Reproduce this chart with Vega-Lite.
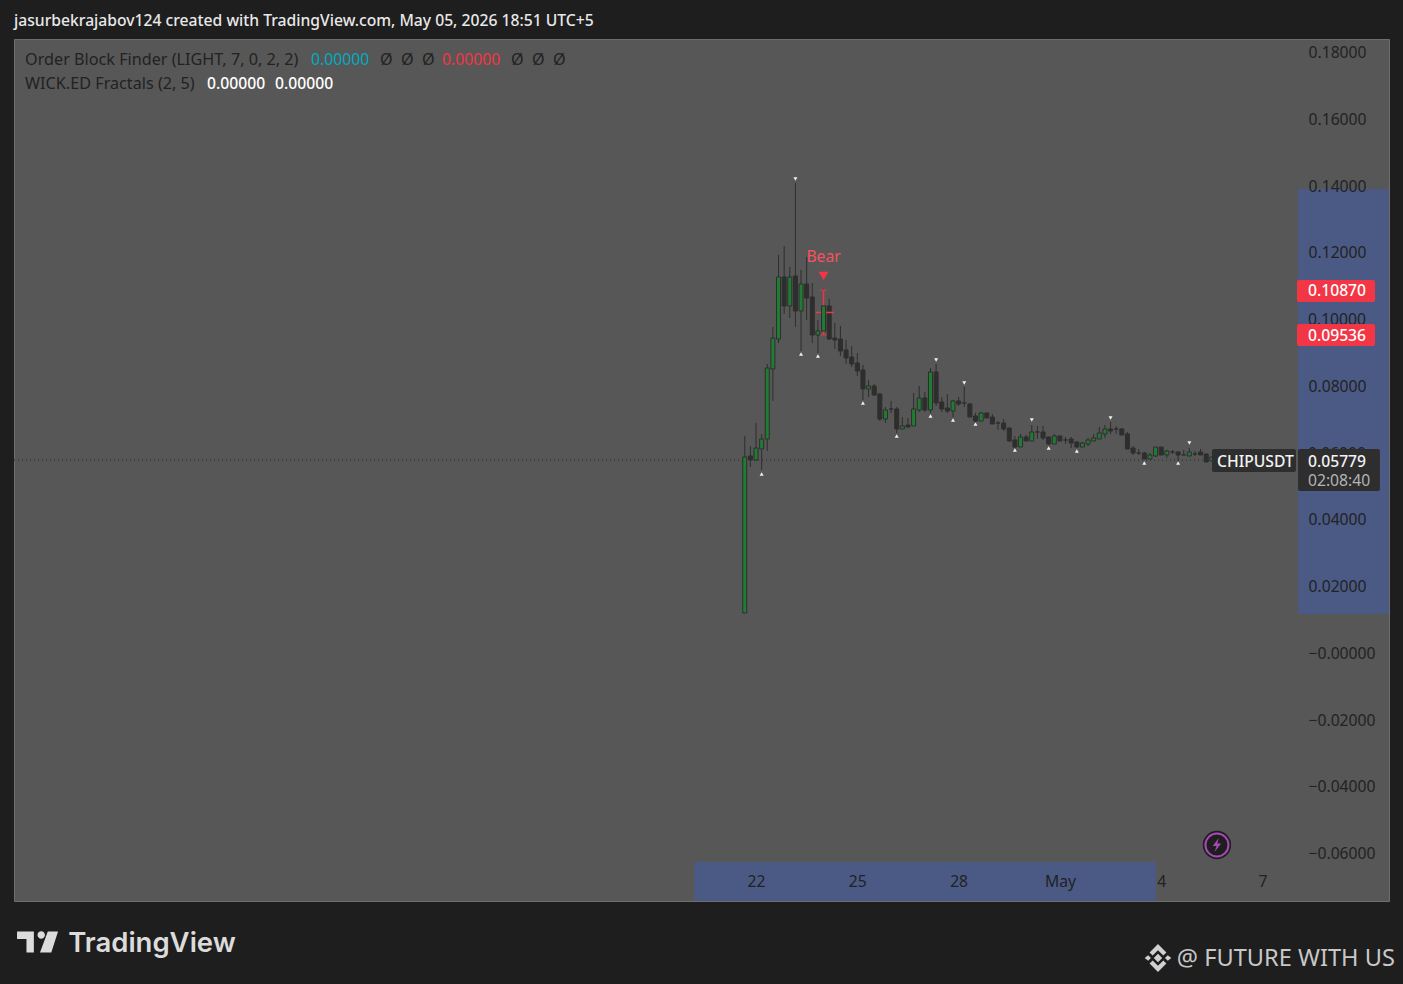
{
"$schema":"https://vega.github.io/schema/vega-lite/v6.json",
"width":1375,"height":862,"autosize":{"type":"none"},
"padding":{"left":14,"top":39,"right":14,"bottom":83},
"background":"#1e1e1e",
"view":{"fill":"#575757","stroke":"#6e6e6e"},
"title":{"text":"jasurbekrajabov124 created with TradingView.com, May 05, 2026 18:51 UTC+5","anchor":"start","frame":"group","offset":9,"fontSize":15.7,"color":"#e8e8e8","font":"Noto Sans","fontWeight":500},
"config":{"text":{"font":"Noto Sans","fontSize":15.7,"baseline":"middle","align":"left","dy":1}},
"datasets":{"candles":[
{"t":"2026-04-21T16:00:00Z","o":0.01199,"h":0.06502,"l":0.01199,"c":0.05873},
{"t":"2026-04-21T20:00:00Z","o":0.05903,"h":0.06202,"l":0.05573,"c":0.05783},
{"t":"2026-04-22T00:00:00Z","o":0.05783,"h":0.06891,"l":0.05753,"c":0.06142},
{"t":"2026-04-22T04:00:00Z","o":0.06112,"h":0.06562,"l":0.05483,"c":0.06412},
{"t":"2026-04-22T08:00:00Z","o":0.06412,"h":0.08659,"l":0.06053,"c":0.08539},
{"t":"2026-04-22T12:00:00Z","o":0.08509,"h":0.09768,"l":0.07551,"c":0.09438},
{"t":"2026-04-22T16:00:00Z","o":0.09408,"h":0.11925,"l":0.09289,"c":0.11266},
{"t":"2026-04-22T20:00:00Z","o":0.11266,"h":0.12195,"l":0.10157,"c":0.10397},
{"t":"2026-04-23T00:00:00Z","o":0.10397,"h":0.11566,"l":0.10038,"c":0.11266},
{"t":"2026-04-23T04:00:00Z","o":0.11296,"h":0.14083,"l":0.09768,"c":0.10247},
{"t":"2026-04-23T08:00:00Z","o":0.10247,"h":0.11476,"l":0.09049,"c":0.11056},
{"t":"2026-04-23T12:00:00Z","o":0.11056,"h":0.11865,"l":0.09978,"c":0.10637},
{"t":"2026-04-23T16:00:00Z","o":0.10667,"h":0.11086,"l":0.09289,"c":0.09528},
{"t":"2026-04-23T20:00:00Z","o":0.09528,"h":0.09978,"l":0.08989,"c":0.09648},
{"t":"2026-04-24T00:00:00Z","o":0.09648,"h":0.10907,"l":0.09528,"c":0.10397},
{"t":"2026-04-24T04:00:00Z","o":0.10397,"h":0.10607,"l":0.09378,"c":0.09408},
{"t":"2026-04-24T08:00:00Z","o":0.09438,"h":0.09888,"l":0.09109,"c":0.09378},
{"t":"2026-04-24T12:00:00Z","o":0.09408,"h":0.09798,"l":0.08899,"c":0.09049},
{"t":"2026-04-24T16:00:00Z","o":0.09079,"h":0.09378,"l":0.08659,"c":0.08839},
{"t":"2026-04-24T20:00:00Z","o":0.08869,"h":0.09199,"l":0.08569,"c":0.08659},
{"t":"2026-04-25T00:00:00Z","o":0.08689,"h":0.08989,"l":0.083,"c":0.0845},
{"t":"2026-04-25T04:00:00Z","o":0.0848,"h":0.08629,"l":0.07581,"c":0.0791},
{"t":"2026-04-25T08:00:00Z","o":0.0791,"h":0.0818,"l":0.07671,"c":0.08},
{"t":"2026-04-25T12:00:00Z","o":0.08,"h":0.0806,"l":0.077,"c":0.0773},
{"t":"2026-04-25T16:00:00Z","o":0.0776,"h":0.0779,"l":0.06951,"c":0.07011},
{"t":"2026-04-25T20:00:00Z","o":0.07011,"h":0.07371,"l":0.06891,"c":0.07281},
{"t":"2026-04-26T00:00:00Z","o":0.07311,"h":0.07551,"l":0.07191,"c":0.07311},
{"t":"2026-04-26T04:00:00Z","o":0.07311,"h":0.07371,"l":0.06592,"c":0.06712},
{"t":"2026-04-26T08:00:00Z","o":0.06712,"h":0.07071,"l":0.06712,"c":0.06802},
{"t":"2026-04-26T12:00:00Z","o":0.06832,"h":0.07041,"l":0.06742,"c":0.06772},
{"t":"2026-04-26T16:00:00Z","o":0.06802,"h":0.0779,"l":0.06802,"c":0.07311},
{"t":"2026-04-26T20:00:00Z","o":0.07281,"h":0.08,"l":0.07221,"c":0.07641},
{"t":"2026-04-27T00:00:00Z","o":0.07641,"h":0.0782,"l":0.07221,"c":0.07281},
{"t":"2026-04-27T04:00:00Z","o":0.07281,"h":0.08539,"l":0.07191,"c":0.0842},
{"t":"2026-04-27T08:00:00Z","o":0.0842,"h":0.08659,"l":0.07401,"c":0.07491},
{"t":"2026-04-27T12:00:00Z","o":0.07521,"h":0.07671,"l":0.07221,"c":0.07311},
{"t":"2026-04-27T16:00:00Z","o":0.07341,"h":0.0776,"l":0.07191,"c":0.07251},
{"t":"2026-04-27T20:00:00Z","o":0.07251,"h":0.07581,"l":0.07071,"c":0.07551},
{"t":"2026-04-28T00:00:00Z","o":0.07551,"h":0.07671,"l":0.07401,"c":0.07461},
{"t":"2026-04-28T04:00:00Z","o":0.07491,"h":0.0797,"l":0.07371,"c":0.07491},
{"t":"2026-04-28T08:00:00Z","o":0.07461,"h":0.07491,"l":0.07071,"c":0.07071},
{"t":"2026-04-28T12:00:00Z","o":0.07101,"h":0.07191,"l":0.06891,"c":0.06951},
{"t":"2026-04-28T16:00:00Z","o":0.06951,"h":0.07221,"l":0.06951,"c":0.07191},
{"t":"2026-04-28T20:00:00Z","o":0.07191,"h":0.07191,"l":0.07041,"c":0.07041},
{"t":"2026-04-29T00:00:00Z","o":0.07071,"h":0.07161,"l":0.06862,"c":0.06862},
{"t":"2026-04-29T04:00:00Z","o":0.06891,"h":0.06951,"l":0.06682,"c":0.06891},
{"t":"2026-04-29T08:00:00Z","o":0.06891,"h":0.07011,"l":0.06652,"c":0.06712},
{"t":"2026-04-29T12:00:00Z","o":0.06742,"h":0.06742,"l":0.06322,"c":0.06352},
{"t":"2026-04-29T16:00:00Z","o":0.06382,"h":0.06502,"l":0.06142,"c":0.06172},
{"t":"2026-04-29T20:00:00Z","o":0.06172,"h":0.06562,"l":0.06172,"c":0.06472},
{"t":"2026-04-30T00:00:00Z","o":0.06472,"h":0.06532,"l":0.06352,"c":0.06352},
{"t":"2026-04-30T04:00:00Z","o":0.06352,"h":0.06832,"l":0.06352,"c":0.06622},
{"t":"2026-04-30T08:00:00Z","o":0.06622,"h":0.06802,"l":0.06412,"c":0.06622},
{"t":"2026-04-30T12:00:00Z","o":0.06622,"h":0.06802,"l":0.06382,"c":0.06442},
{"t":"2026-04-30T16:00:00Z","o":0.06472,"h":0.06472,"l":0.06232,"c":0.06262},
{"t":"2026-04-30T20:00:00Z","o":0.06262,"h":0.06562,"l":0.06262,"c":0.06502},
{"t":"2026-05-01T00:00:00Z","o":0.06502,"h":0.06502,"l":0.06352,"c":0.06352},
{"t":"2026-05-01T04:00:00Z","o":0.06382,"h":0.06472,"l":0.06262,"c":0.06382},
{"t":"2026-05-01T08:00:00Z","o":0.06412,"h":0.06472,"l":0.06142,"c":0.06292},
{"t":"2026-05-01T12:00:00Z","o":0.06322,"h":0.06352,"l":0.06142,"c":0.06172},
{"t":"2026-05-01T16:00:00Z","o":0.06172,"h":0.06322,"l":0.06172,"c":0.06292},
{"t":"2026-05-01T20:00:00Z","o":0.06262,"h":0.06442,"l":0.06202,"c":0.06382},
{"t":"2026-05-02T00:00:00Z","o":0.06352,"h":0.06562,"l":0.06352,"c":0.06442},
{"t":"2026-05-02T04:00:00Z","o":0.06412,"h":0.06772,"l":0.06412,"c":0.06592},
{"t":"2026-05-02T08:00:00Z","o":0.06562,"h":0.06832,"l":0.06442,"c":0.06712},
{"t":"2026-05-02T12:00:00Z","o":0.06712,"h":0.06921,"l":0.06562,"c":0.06652},
{"t":"2026-05-02T16:00:00Z","o":0.06712,"h":0.06802,"l":0.06562,"c":0.06712},
{"t":"2026-05-02T20:00:00Z","o":0.06712,"h":0.06742,"l":0.06532,"c":0.06532},
{"t":"2026-05-03T00:00:00Z","o":0.06562,"h":0.06622,"l":0.06112,"c":0.06112},
{"t":"2026-05-03T04:00:00Z","o":0.06142,"h":0.06202,"l":0.05933,"c":0.05993},
{"t":"2026-05-03T08:00:00Z","o":0.05993,"h":0.06112,"l":0.05933,"c":0.05993},
{"t":"2026-05-03T12:00:00Z","o":0.05993,"h":0.06023,"l":0.05813,"c":0.05813},
{"t":"2026-05-03T16:00:00Z","o":0.05813,"h":0.05993,"l":0.05813,"c":0.05933},
{"t":"2026-05-03T20:00:00Z","o":0.05903,"h":0.06172,"l":0.05873,"c":0.06172},
{"t":"2026-05-04T00:00:00Z","o":0.06172,"h":0.06172,"l":0.05933,"c":0.05933},
{"t":"2026-05-04T04:00:00Z","o":0.05933,"h":0.06083,"l":0.05843,"c":0.06053},
{"t":"2026-05-04T08:00:00Z","o":0.06023,"h":0.06083,"l":0.05963,"c":0.06023},
{"t":"2026-05-04T12:00:00Z","o":0.06023,"h":0.06023,"l":0.05753,"c":0.05933},
{"t":"2026-05-04T16:00:00Z","o":0.05933,"h":0.06083,"l":0.05933,"c":0.05933},
{"t":"2026-05-04T20:00:00Z","o":0.05903,"h":0.06142,"l":0.05903,"c":0.06023},
{"t":"2026-05-05T00:00:00Z","o":0.05963,"h":0.06053,"l":0.05903,"c":0.05963},
{"t":"2026-05-05T04:00:00Z","o":0.06023,"h":0.06112,"l":0.05933,"c":0.05933},
{"t":"2026-05-05T08:00:00Z","o":0.05963,"h":0.05963,"l":0.05723,"c":0.05723},
{"t":"2026-05-05T12:00:00Z","o":0.05753,"h":0.05873,"l":0.05753,"c":0.05873}
]},
"encoding":{
"x":{"field":"t","type":"temporal","title":null,"scale":{"type":"utc","domain":["2026-03-31T00:36:00Z","2026-05-10T17:54:00Z"],"nice":false,"padding":0},
"axis":{"orient":"bottom","values":["2026-04-22T00:00:00Z","2026-04-25T00:00:00Z","2026-04-28T00:00:00Z","2026-05-01T00:00:00Z","2026-05-04T00:00:00Z","2026-05-07T00:00:00Z"],"labelExpr":"utcdate(datum.value)==1 ? 'May' : utcFormat(datum.value,'%-d')","domain":false,"ticks":false,"grid":false,"labelPadding":-27,"labelFont":"Noto Sans","labelFontSize":15.7,"labelColor":"#222222","labelOverlap":false,"labelFlush":false,"zindex":1}},
"y":{"field":"price","type":"quantitative","title":null,"scale":{"domain":[-0.07431,0.18397],"nice":false,"zero":false},
"axis":{"orient":"right","values":[0.18,0.16,0.14,0.12,0.08,0.04,0.02,0,-0.02,-0.04,-0.06],"labelExpr":"datum.value<=0 ? '−'+format(abs(datum.value),'.5f') : format(datum.value,'.5f')","domain":false,"ticks":false,"grid":false,"labelPadding":-81,"labelAlign":"left","labelFont":"Noto Sans","labelFontSize":15.7,"labelColor":"#222222","labelOverlap":false,"labelFlush":false,"labelOffset":0.5,"zindex":1}}
},
"layer":[
{"data":{"values":[{"price":0.05779}]},"mark":{"type":"rule","color":"#2a2a2a","strokeDash":[1,3],"strokeWidth":1},"encoding":{"x":{"value":0},"x2":{"value":1285}}},
{"data":{"name":"candles"},"mark":{"type":"rule","color":"#2e2e2e","strokeWidth":1},"encoding":{"y":{"field":"h","type":"quantitative"},"y2":{"field":"l"}}},
{"data":{"name":"candles"},"mark":{"type":"bar","size":4,"strokeWidth":1,"stroke":"#2e2e2e"},"encoding":{"y":{"field":"o","type":"quantitative"},"y2":{"field":"c"},"fill":{"condition":{"test":"datum.c>datum.o","value":"#1f7d33"},"value":"#2e2e2e"}}},
{"data":{"values":[{"t":"2026-04-23T18:39:00Z","t2":"2026-04-24T07:26:00Z","price":0.10203}]},"mark":{"type":"rule","color":"#f23645","strokeWidth":1.5},"encoding":{"x2":{"field":"t2"}}},
{"data":{"values":[{"t":"2026-04-24T00:00:00Z","price":0.1087,"price2":0.09536}]},"mark":{"type":"rule","color":"#f23645","strokeWidth":1.5},"encoding":{"y2":{"field":"price2"}}},
{"data":{"values":[{"t":"2026-04-24T00:00:00Z","price":0.1087},{"t":"2026-04-24T00:00:00Z","price":0.09536}]},"mark":{"type":"tick","orient":"horizontal","color":"#f23645","size":6,"thickness":1.5}},
{"data":{"values":[{"t":"2026-04-24T00:00:00Z","o":0.09648,"c":0.10397}]},"mark":{"type":"bar","size":4,"strokeWidth":1,"stroke":"#2e2e2e","fill":"#1f7d33"},"encoding":{"y":{"field":"o","type":"quantitative"},"y2":{"field":"c"}}},
{"data":{"values":[
{"t":"2026-04-22T04:00:00Z","price":0.05363,"kind":"low"},{"t":"2026-04-23T08:00:00Z","price":0.08959,"kind":"low"},{"t":"2026-04-23T20:00:00Z","price":0.08899,"kind":"low"},{"t":"2026-04-25T04:00:00Z","price":0.07491,"kind":"low"},{"t":"2026-04-26T04:00:00Z","price":0.06502,"kind":"low"},{"t":"2026-04-27T04:00:00Z","price":0.07101,"kind":"low"},{"t":"2026-04-27T20:00:00Z","price":0.06981,"kind":"low"},{"t":"2026-04-28T12:00:00Z","price":0.06862,"kind":"low"},{"t":"2026-04-29T16:00:00Z","price":0.06083,"kind":"low"},{"t":"2026-04-30T16:00:00Z","price":0.06142,"kind":"low"},{"t":"2026-05-01T12:00:00Z","price":0.06053,"kind":"low"},{"t":"2026-05-03T12:00:00Z","price":0.05693,"kind":"low"},{"t":"2026-05-04T12:00:00Z","price":0.05693,"kind":"low"},
{"t":"2026-04-23T04:00:00Z","price":0.14203,"kind":"high"},{"t":"2026-04-27T08:00:00Z","price":0.08779,"kind":"high"},{"t":"2026-04-28T04:00:00Z","price":0.0809,"kind":"high"},{"t":"2026-04-30T04:00:00Z","price":0.06981,"kind":"high"},{"t":"2026-05-02T12:00:00Z","price":0.07041,"kind":"high"},{"t":"2026-05-04T20:00:00Z","price":0.06292,"kind":"high"}
]},"mark":{"type":"point","filled":true,"opacity":1,"color":"#f0f0f0","size":16},"encoding":{"shape":{"field":"kind","type":"nominal","legend":null,"scale":{"domain":["low","high"],"range":["triangle-up","triangle-down"]}}}},
{"data":{"values":[{"t":"2026-04-24T00:00:00Z","price":0.11296}]},"mark":{"type":"point","shape":"triangle-down","filled":true,"opacity":1,"color":"#f23645","size":100}},
{"data":{"values":[{"t":"2026-04-24T00:00:00Z","price":0.11895,"label":"Bear"}]},"mark":{"type":"text","align":"center","color":"#f7525f"},"encoding":{"text":{"field":"label"}}},
{"data":{"values":[{"t":"2026-05-08T01:12:00Z","t2":"2026-05-10T17:54:00Z","price":0.13903,"price2":0.01169},{"t":"2026-04-20T04:00:00Z","t2":"2026-05-03T20:17:00Z","price":-0.06262,"price2":-0.07431}]},"mark":{"type":"rect","color":"#4a5a85"},"encoding":{"x2":{"field":"t2"},"y2":{"field":"price2"}}},
{"data":{"values":[{"t":"2026-05-08T08:18:00Z","price":0.1,"label":"0.10000"},{"t":"2026-05-08T08:18:00Z","price":0.06,"label":"0.06000"}]},"mark":{"type":"text","color":"#222222"},"encoding":{"text":{"field":"label"}}},
{"data":{"values":[{"t":"2026-05-08T00:30:00Z","t2":"2026-05-10T08:00:00Z","price":0.11176,"price2":0.10517},{"t":"2026-05-08T00:30:00Z","t2":"2026-05-10T08:00:00Z","price":0.09858,"price2":0.09199}]},"mark":{"type":"rect","color":"#f23645","cornerRadius":2},"encoding":{"x2":{"field":"t2"},"y2":{"field":"price2"}}},
{"data":{"values":[{"t":"2026-05-08T08:18:00Z","price":0.1087,"label":"0.10870"},{"t":"2026-05-08T08:18:00Z","price":0.09536,"label":"0.09536"}]},"mark":{"type":"text","color":"#ffffff","fontWeight":500},"encoding":{"text":{"field":"label"}}},
{"data":{"values":[{"t":"2026-05-05T12:04:00Z","t2":"2026-05-07T23:46:00Z","price":0.06112,"price2":0.05424},{"t":"2026-05-08T01:12:00Z","t2":"2026-05-10T11:28:00Z","price":0.06112,"price2":0.04854}]},"mark":{"type":"rect","color":"#2e2e2e","cornerRadius":2},"encoding":{"x2":{"field":"t2"},"y2":{"field":"price2"}}},
{"data":{"values":[{"t":"2026-05-05T15:37:00Z","price":0.05753,"label":"CHIPUSDT"},{"t":"2026-05-08T08:18:00Z","price":0.05753,"label":"0.05779"}]},"mark":{"type":"text","color":"#f2f2f2","fontWeight":500},"encoding":{"text":{"field":"label"}}},
{"data":{"values":[{"t":"2026-05-08T08:18:00Z","price":0.05183,"label":"02:08:40"}]},"mark":{"type":"text","color":"#b4b4b4"},"encoding":{"text":{"field":"label"}}},
{"data":{"values":[{"t":"2026-03-31T08:28:00Z","price":0.17798,"label":"Order Block Finder (LIGHT, 7, 0, 2, 2)"},{"t":"2026-03-31T08:28:00Z","price":0.17079,"label":"WICK.ED Fractals (2, 5)"},{"t":"2026-04-10T20:47:00Z","price":0.17798,"label":"Ø"},{"t":"2026-04-11T11:43:00Z","price":0.17798,"label":"Ø"},{"t":"2026-04-12T02:38:00Z","price":0.17798,"label":"Ø"},{"t":"2026-04-14T17:53:00Z","price":0.17798,"label":"Ø"},{"t":"2026-04-15T08:49:00Z","price":0.17798,"label":"Ø"},{"t":"2026-04-15T23:44:00Z","price":0.17798,"label":"Ø"}]},"mark":{"type":"text","color":"#222222","fontSize":16.2},"encoding":{"text":{"field":"label"}}},
{"data":{"values":[{"t":"2026-04-08T19:45:00Z","price":0.17798,"label":"0.00000"}]},"mark":{"type":"text","color":"#00acc1"},"encoding":{"text":{"field":"label"}}},
{"data":{"values":[{"t":"2026-04-12T16:51:00Z","price":0.17798,"label":"0.00000"}]},"mark":{"type":"text","color":"#f23645"},"encoding":{"text":{"field":"label"}}},
{"data":{"values":[{"t":"2026-04-05T17:50:00Z","price":0.17079,"label":"0.00000"},{"t":"2026-04-07T18:10:00Z","price":0.17079,"label":"0.00000"}]},"mark":{"type":"text","color":"#ffffff","fontWeight":500},"encoding":{"text":{"field":"label"}}},
{"data":{"values":[{"t":"2026-05-05T15:37:00Z","price":-0.05753}]},"mark":{"type":"point","shape":"circle","filled":true,"opacity":1,"color":"#1e1e1e","size":800}},
{"data":{"values":[{"t":"2026-05-05T15:37:00Z","price":-0.05753}]},"mark":{"type":"point","shape":"circle","filled":true,"opacity":1,"fill":"#1e1e1e","stroke":"#ab47bc","strokeWidth":2,"size":530}},
{"data":{"values":[{"t":"2026-05-05T15:37:00Z","price":-0.05753}]},"mark":{"type":"point","shape":"M.25 -1 L-.6 .15 H-.05 L-.35 1 L.6 -.2 H.05 Z","filled":true,"opacity":1,"color":"#ab47bc","size":196}},
{"data":{"values":[{"t":"2026-03-31T17:20:00Z","price":-0.08659}]},"mark":{"type":"point","shape":"M-1 -.51 H-.18 V.51 H-.54 V-.15 H-1 Z M0 -.34 A.18 .18 0 1 0 .36 -.34 A.18 .18 0 1 0 0 -.34 Z M.5 -.51 L1 -.51 L.67 .51 L.12 .51 Z","filled":true,"opacity":1,"color":"#dcdcdc","size":1681}},
{"data":{"values":[{"t":"2026-04-01T15:07:00Z","price":-0.08689,"label":"TradingView"}]},"mark":{"type":"text","font":"Inter","fontSize":27.5,"fontWeight":600,"color":"#dcdcdc"},"encoding":{"text":{"field":"label"}}},
{"data":{"values":[{"t":"2026-05-03T21:42:00Z","price":-0.09139}]},"mark":{"type":"point","shape":"M0 -.3 L.3 0 L0 .3 L-.3 0 Z M-.7 -.2 L-.5 0 L-.7 .2 L-.95 0 Z M.7 -.2 L.95 0 L.7 .2 L.5 0 Z M0 -1 L.6 -.4 L.38 -.18 L0 -.55 L-.38 -.18 L-.6 -.4 Z M0 1 L.6 .4 L.38 .18 L0 .55 L-.38 .18 L-.6 .4 Z","filled":true,"opacity":1,"color":"#d0d0d0","size":784}},
{"data":{"values":[{"t":"2026-05-10T22:05:00Z","price":-0.09139,"label":"@ FUTURE WITH US"}]},"mark":{"type":"text","align":"right","fontSize":23.6,"color":"#c8c8c8"},"encoding":{"text":{"field":"label"}}}
]
}
